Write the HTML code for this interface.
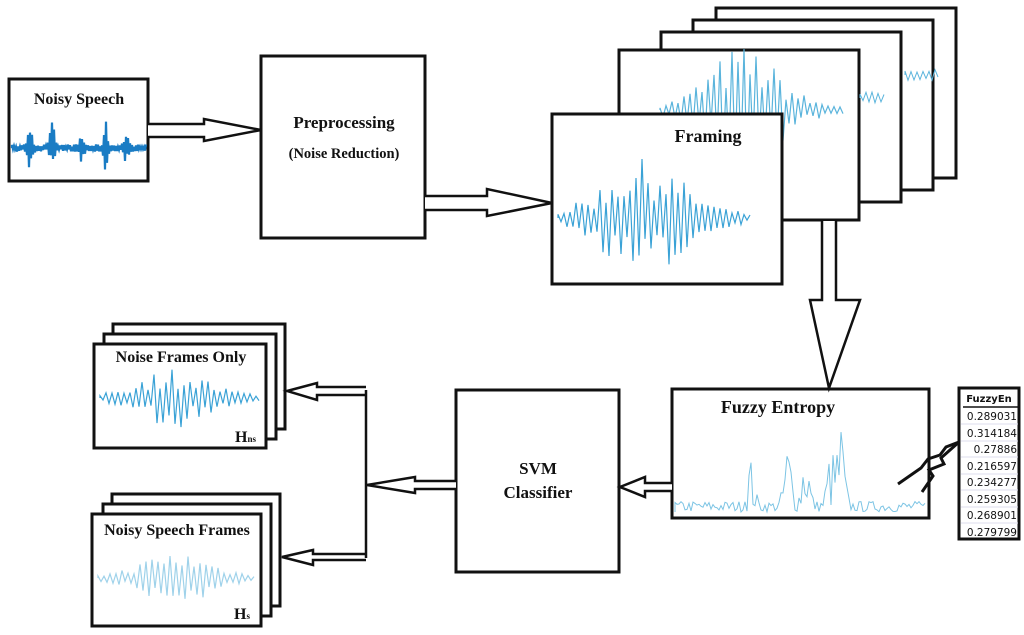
<!DOCTYPE html>
<html><head><meta charset="utf-8"><style>
html,body{margin:0;padding:0;background:#fff;}
svg{display:block;}
text{font-family:"Liberation Serif",serif;font-weight:bold;fill:#111;}
</style></head><body>
<svg id="s" width="1024" height="635" viewBox="0 0 1024 635" xmlns="http://www.w3.org/2000/svg">
<g fill="#fff" stroke="#111" stroke-width="3">
<rect x="716" y="8" width="240" height="170"/>
<rect x="693" y="20" width="240" height="170"/>
<rect x="661" y="32" width="240" height="170"/>
<rect x="619" y="50" width="240" height="170"/>
</g>
<g id="wv"></g>
<g fill="#fff" stroke="#111" stroke-width="3">
<rect x="552" y="114" width="230" height="170"/>
<rect x="9" y="79" width="139" height="102"/>
<rect x="261" y="56" width="164" height="182"/>
<rect x="456" y="390" width="163" height="182"/>
<rect x="672" y="389" width="257" height="129"/>
<rect x="113" y="324" width="172" height="105"/>
<rect x="104" y="334" width="172" height="105"/>
<rect x="94" y="344" width="172" height="104"/>
<rect x="112" y="494" width="168" height="112"/>
<rect x="103" y="504" width="168" height="112"/>
<rect x="92" y="514" width="169" height="112"/>
<rect x="959" y="388" width="60" height="151"/>
</g>
<g id="wv2"></g>
<g fill="#fff" stroke="#111" stroke-width="2.5" stroke-linejoin="miter">
<path d="M148,124 L204,124 L204,119 L261,130 L204,141 L204,137 L148,137"/>
<path d="M425,196 L487,196 L487,189 L552,203 L487,216 L487,210 L425,210"/>
<path d="M822,221 L822,300 L810,300 L829,388 L860,300 L836,300 L836,221"/>
<path d="M672,483 L645,483 L645,477 L620,487 L645,497 L645,491 L672,491"/>
<path d="M456,481 L415,481 L415,477 L367,485 L415,493 L415,489 L456,489"/>
<path d="M366,387 L317,387 L317,383 L287,391 L317,400 L317,395 L366,395"/>
<path d="M366,554 L313,554 L313,550 L282,557 L313,565 L313,560 L366,560"/>
</g>
<line x1="366" y1="390" x2="366" y2="558" stroke="#111" stroke-width="2.5"/>
<polyline points="898,484 921,468 928,459 940,455 946,447 959,442" fill="none" stroke="#111" stroke-width="3"/>
<polyline points="922,492 933,476 929,470 944,464 941,458 959,442" fill="none" stroke="#111" stroke-width="3"/>
<line x1="963" y1="407" x2="1018" y2="407" stroke="#111" stroke-width="1.5"/>
<g stroke="#dde" stroke-width="1">
<line x1="961" y1="424" x2="1018" y2="424"/><line x1="961" y1="441" x2="1018" y2="441"/><line x1="961" y1="457" x2="1018" y2="457"/><line x1="961" y1="474" x2="1018" y2="474"/><line x1="961" y1="490" x2="1018" y2="490"/><line x1="961" y1="507" x2="1018" y2="507"/><line x1="961" y1="523" x2="1018" y2="523"/>
</g>
<text x="989" y="402" text-anchor="middle" style="font-family:'DejaVu Sans',sans-serif" font-size="10">FuzzyEn</text>
<g text-anchor="end" font-size="10.5">
<text x="1017" y="420" style="font-family:'DejaVu Sans',sans-serif;font-weight:normal">0.289031</text>
<text x="1017" y="437" style="font-family:'DejaVu Sans',sans-serif;font-weight:normal">0.314184</text>
<text x="1017" y="453" style="font-family:'DejaVu Sans',sans-serif;font-weight:normal">0.27886</text>
<text x="1017" y="470" style="font-family:'DejaVu Sans',sans-serif;font-weight:normal">0.216597</text>
<text x="1017" y="486" style="font-family:'DejaVu Sans',sans-serif;font-weight:normal">0.234277</text>
<text x="1017" y="503" style="font-family:'DejaVu Sans',sans-serif;font-weight:normal">0.259305</text>
<text x="1017" y="519" style="font-family:'DejaVu Sans',sans-serif;font-weight:normal">0.268901</text>
<text x="1017" y="536" style="font-family:'DejaVu Sans',sans-serif;font-weight:normal">0.279799</text>
</g>
<text x="79" y="104" font-size="16" text-anchor="middle">Noisy Speech</text>
<text x="344" y="128" font-size="17" text-anchor="middle">Preprocessing</text>
<text x="344" y="158" font-size="14.5" text-anchor="middle">(Noise Reduction)</text>
<text x="708" y="142" font-size="18" text-anchor="middle">Framing</text>
<text x="778" y="413" font-size="18" text-anchor="middle">Fuzzy Entropy</text>
<text x="538" y="474" font-size="17" text-anchor="middle">SVM</text>
<text x="538" y="498" font-size="17" text-anchor="middle">Classifier</text>
<text x="181" y="362" font-size="16" text-anchor="middle">Noise Frames Only</text>
<text x="235" y="442" font-size="16">H<tspan font-size="9">ns</tspan></text>
<text x="177" y="535" font-size="16" text-anchor="middle">Noisy Speech Frames</text>
<text x="234" y="619" font-size="16">H<tspan font-size="9">s</tspan></text>
</svg>
<script>
var seed=7;function r(){seed=(seed*16807)%2147483647;return seed/2147483647;}
function wave(x0,x1,yc,amp,env,col,sw,step,tgt,up){
 var d="M"+x0+","+yc;var sg=1;for(var x=x0;x<=x1;x+=step){var t=(x-x0)/(x1-x0);var a=amp*env(t);sg=-sg;var y=up?yc-r()*a:yc+sg*(0.3+0.7*r())*a;d+=" L"+x.toFixed(1)+","+y.toFixed(1);}
 var p=document.createElementNS("http://www.w3.org/2000/svg","path");p.setAttribute("d",d);p.setAttribute("fill","none");p.setAttribute("stroke",col);p.setAttribute("stroke-width",sw);document.getElementById(tgt).appendChild(p);}
function bell(c,w){return function(t){return 0.08+Math.exp(-Math.pow((t-c)/w,2));};}
wave(660,845,110,60,bell(0.45,0.25),"#5ab4dc",1.2,3,"wv");
wave(860,885,98,6,bell(0.5,1),"#5ab4dc",1,3,"wv");
wave(905,940,75,6,bell(0.5,1),"#5ab4dc",1,3,"wv");
wave(12,146,148,6,function(t){var s=0.6;[[0.14,5],[0.3,4],[0.52,2],[0.7,4],[0.85,2.5]].forEach(function(c){s+=c[1]*Math.exp(-Math.pow((t-c[0])/0.02,2));});return s;},"#1a7cc4",2.2,1,"wv2");
wave(558,750,218,55,bell(0.45,0.28),"#3aa2d6",1.2,3,"wv2");
wave(675,926,512,18,function(t){var s=0.6;[[0.3,2.5],[0.45,3.5],[0.52,3.5],[0.62,3],[0.66,4.5]].forEach(function(c){s+=c[1]*Math.exp(-Math.pow((t-c[0])/0.02,2));});return s;},"#7cc4e4",1,2,"wv2",true);
wave(100,260,398,28,bell(0.45,0.3),"#3aa2d6",1.2,3,"wv2");
wave(98,255,578,25,bell(0.5,0.3),"#9fd2ea",1.2,3,"wv2");
</script>
</body></html>
